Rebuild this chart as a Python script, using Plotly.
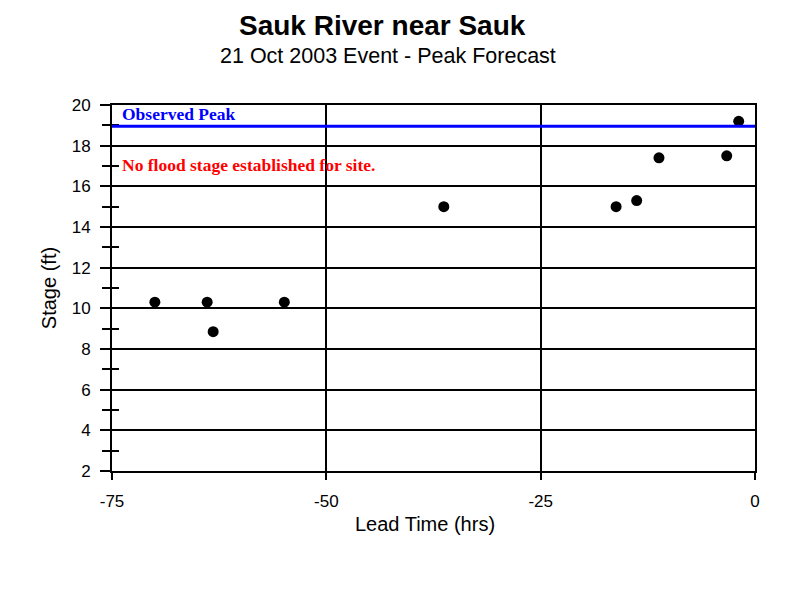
import plotly.graph_objects as go

lead_time = [-70.0, -63.9, -63.2, -54.9, -36.3, -16.2, -13.8, -11.2, -3.3, -1.9]
stage = [10.3, 10.3, 8.85, 10.3, 15.0, 15.0, 15.3, 17.4, 17.5, 19.2]
observed_peak = 18.95
x_ticks = [-75, -50, -25, 0]
x_tick_text = ["-75", "-50", "-25", "0"]
y_ticks = [2, 4, 6, 8, 10, 12, 14, 16, 18, 20]
y_minor_ticks = [3, 5, 7, 9, 11, 13, 15, 17, 19]

fig = go.Figure()
fig.add_trace(go.Scatter(x=lead_time, y=stage, mode="markers",
                         marker=dict(color="black", size=11, symbol="circle"),
                         showlegend=False, cliponaxis=False))
# invisible trace on overlay axis for inside minor ticks
fig.add_trace(go.Scatter(x=[None], y=[None], yaxis="y2", showlegend=False, hoverinfo="skip"))
fig.add_shape(type="line", xref="paper", x0=0, x1=1, yref="y", y0=observed_peak, y1=observed_peak,
              line=dict(color="#0000ff", width=3))
fig.add_annotation(xref="paper", x=0.012, yref="y", y=observed_peak, yanchor="bottom", xanchor="left",
                   text="<b>Observed Peak</b>", showarrow=False,
                   font=dict(family="Liberation Serif", size=17.5, color="#0000ff"))
fig.add_annotation(xref="paper", x=0.012, yref="y", y=17.05, yanchor="middle", xanchor="left",
                   text="<b>No flood stage established for site.</b>", showarrow=False,
                   font=dict(family="Liberation Serif", size=17.5, color="#ff0000"))
fig.add_annotation(xref="paper", yref="paper", x=0.42, y=1.0, yshift=62, xanchor="center", yanchor="bottom",
                   text="<b>Sauk River near Sauk</b>", showarrow=False,
                   font=dict(family="Liberation Sans", size=28, color="black"))
fig.add_annotation(xref="paper", yref="paper", x=0.43, y=1.0, yshift=35, xanchor="center", yanchor="bottom",
                   text="21 Oct 2003 Event - Peak Forecast", showarrow=False,
                   font=dict(family="Liberation Sans", size=21.5, color="black"))
fig.add_annotation(xref="paper", yref="paper", x=0.487, y=0, yshift=-40, xanchor="center", yanchor="top",
                   text="Lead Time (hrs)", showarrow=False,
                   font=dict(family="Liberation Sans", size=20, color="black"))

fig.update_layout(
    width=792, height=592,
    margin=dict(l=104, r=45, t=97, b=129),
    paper_bgcolor="white", plot_bgcolor="white",
    font=dict(family="Liberation Sans", size=17, color="black"),
    xaxis=dict(range=[-75, 0], tickvals=x_ticks, ticktext=x_tick_text, showgrid=True, gridcolor="black", gridwidth=2,
               zeroline=False, showline=True, linecolor="black", linewidth=2, mirror=True,
               ticks="outside", ticklen=7, tickwidth=2, tickcolor="black", ticklabelstandoff=7),
    yaxis=dict(range=[2, 20], tickvals=y_ticks, showgrid=True, gridcolor="black", gridwidth=2,
               zeroline=False, showline=True, linecolor="black", linewidth=2, mirror=True,
               ticks="outside", ticklen=10, tickwidth=2, tickcolor="black", ticklabelstandoff=6,
               minor=dict(dtick=1, tick0=0, ticks="outside", ticklen=8, tickwidth=2, tickcolor="black", showgrid=False),
               title=dict(text="Stage (ft)", standoff=10, font=dict(size=20))),
    yaxis2=dict(range=[2, 20], overlaying="y", side="left", tickvals=y_minor_ticks, showgrid=False, zeroline=False,
                showline=False, showticklabels=False, ticks="inside", ticklen=7, tickwidth=2, tickcolor="black"),
)
fig.write_html("out.html")
